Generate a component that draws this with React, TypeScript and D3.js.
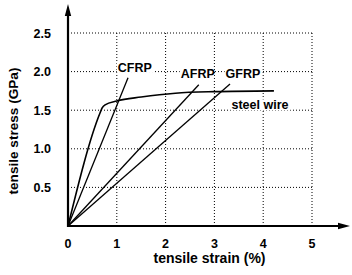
import React from "react";
import * as d3 from "d3";

const xTicks = [0, 1, 2, 3, 4, 5];
const yTicks = [0.5, 1.0, 1.5, 2.0, 2.5];
const yTickLabels = ["0.5", "1.0", "1.5", "2.0", "2.5"];

const steelStrain = [0, 0.66, 0.7, 0.76, 1.0, 1.5, 2.2, 3.0, 4.22];
const steelStress = [0, 1.47, 1.53, 1.57, 1.62, 1.67, 1.72, 1.74, 1.75];
const cfrpStrain = [0, 1.23];
const cfrpStress = [0, 1.92];
const afrpStrain = [0, 2.68];
const afrpStress = [0, 1.83];
const gfrpStrain = [0, 3.32];
const gfrpStress = [0, 1.84];

const labels = ["CFRP", "AFRP", "GFRP", "steel wire"];
const labelStrain = [1.02, 2.31, 3.23, 3.35];
const labelStress = [2.0, 1.92, 1.92, 1.51];

const W = 352;
const H = 275;
const font = "'Liberation Sans', Arial, Helvetica, sans-serif";

export default function App() {
  const x = d3.scaleLinear().domain([0, 5]).range([68, 312]);
  const y = d3.scaleLinear().domain([0, 2.5]).range([226, 33]);
  const mk = (xs: number[], ys: number[]) => xs.map((v, i) => [v, ys[i]] as [number, number]);
  const line = d3.line<[number, number]>().x((d) => x(d[0])).y((d) => y(d[1]));
  const steelLine = d3
    .line<[number, number]>()
    .x((d) => x(d[0]))
    .y((d) => y(d[1]))
    .curve(d3.curveMonotoneX);

  const x0 = x(0);
  const y0 = y(0);
  return (
    <svg width={W} height={H} style={{ position: "absolute", left: 0, top: 0, background: "#fff" }}>
      <rect x={0} y={0} width={W} height={H} fill="#fff" />
      {/* grid */}
      <g stroke="#000" strokeWidth={1} strokeDasharray="1 2" fill="none">
        {yTicks.map((t) => (
          <line key={"h" + t} x1={x0} x2={x(5)} y1={y(t)} y2={y(t)} />
        ))}
        {xTicks.slice(1).map((t) => (
          <line key={"v" + t} x1={x(t)} x2={x(t)} y1={y0} y2={y(2.5)} />
        ))}
      </g>
      {/* labels with white backgrounds */}
      {labels.map((l, i) => {
        const w = l === "steel wire" ? 58 : l === "AFRP" ? 32 : 35;
        return (
          <g key={l}>
            <rect x={x(labelStrain[i]) - 1} y={y(labelStress[i]) - 10} width={w + 2} height={11} fill="#fff" />
            <text
              x={x(labelStrain[i])}
              y={y(labelStress[i])}
              fontFamily={font}
              fontSize={12.5}
              fontWeight="bold"
              fill="#000"
            >
              {l}
            </text>
          </g>
        );
      })}
      {/* data lines */}
      <g fill="none" stroke="#000" strokeWidth={1.3}>
        <path d={line(mk(cfrpStrain, cfrpStress)) || ""} />
        <path d={line(mk(afrpStrain, afrpStress)) || ""} />
        <path d={line(mk(gfrpStrain, gfrpStress)) || ""} />
        <path d={steelLine(mk(steelStrain, steelStress)) || ""} strokeWidth={1.6} />
      </g>
      {/* axes */}
      <g stroke="#000" strokeWidth={2.2}>
        <line x1={x0} x2={x0} y1={y0 + 1} y2={14} />
        <line x1={x0 - 1} x2={340} y1={y0} y2={y0} />
      </g>
      <path d={`M${x0},4 L${x0 - 3.2},16 L${x0 + 3.2},16 Z`} fill="#000" />
      <path d={`M350,${y0} L338,${y0 - 3.2} L338,${y0 + 3.2} Z`} fill="#000" />
      {/* tick labels */}
      {yTicks.map((t, i) => (
        <text
          key={"yl" + t}
          x={51}
          y={y(t)}
          dy="0.36em"
          textAnchor="end"
          fontFamily={font}
          fontSize={12.5}
          fontWeight="bold"
        >
          {yTickLabels[i]}
        </text>
      ))}
      {xTicks.map((t) => (
        <text
          key={"xl" + t}
          x={x(t)}
          y={248}
          textAnchor="middle"
          fontFamily={font}
          fontSize={12.5}
          fontWeight="bold"
        >
          {String(t)}
        </text>
      ))}
      {/* axis titles */}
      <text x={209.5} y={263} textAnchor="middle" fontFamily={font} fontSize={14} fontWeight="bold">
        tensile strain (%)
      </text>
      <text
        transform={`translate(18,131) rotate(-90)`}
        textAnchor="middle"
        fontFamily={font}
        fontSize={13.6}
        fontWeight="bold"
      >
        tensile stress (GPa)
      </text>
    </svg>
  );
}
